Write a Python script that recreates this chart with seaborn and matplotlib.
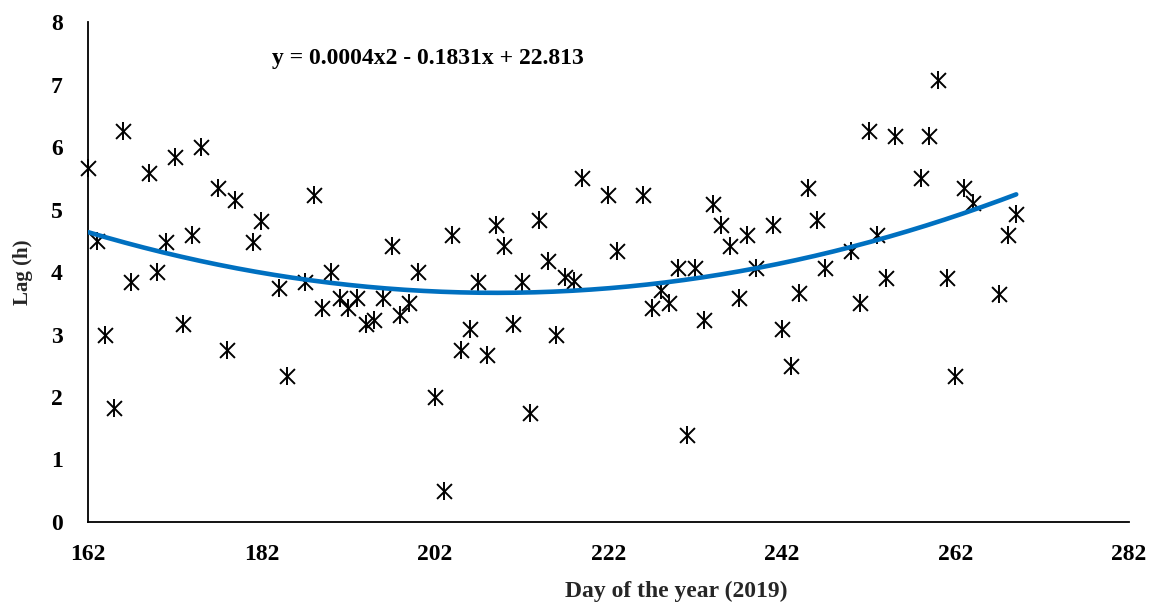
import numpy as np
import pandas as pd
import matplotlib
matplotlib.use("Agg")
import matplotlib.pyplot as plt
import seaborn as sns

# Daily lag observations
days = [162, 163, 164, 165, 166, 167, 169, 170, 171, 172, 173, 174, 175, 177,
        178, 179, 181, 182, 184, 185, 187, 188, 189, 190, 191, 192, 193, 194,
        195, 196, 197, 198, 199, 200, 202, 203, 204, 205, 206, 207, 208, 209,
        210, 211, 212, 213, 214, 215, 216, 217, 218, 219, 222, 223, 226, 227,
        228, 229, 230, 231, 232, 233, 234, 235, 236, 237, 238, 239, 241, 242,
        243, 244, 245, 246, 247, 250, 251, 252, 253, 254, 255, 258, 259, 260,
        261, 262, 263, 264, 267, 268, 269]
lags = [5.66, 4.49, 3.00, 1.82, 6.25, 3.84, 5.58, 4.00, 4.48, 5.84, 3.17, 4.59,
        6.00, 5.34, 2.75, 5.16, 4.48, 4.82, 3.74, 2.34, 3.84, 5.24, 3.42, 4.00,
        3.58, 3.42, 3.58, 3.17, 3.24, 3.59, 4.41, 3.32, 3.51, 4.00, 2.00, 0.50,
        4.59, 2.75, 3.09, 3.84, 2.67, 4.75, 4.41, 3.17, 3.84, 1.74, 4.83, 4.18,
        3.00, 3.92, 3.85, 5.50, 5.24, 4.34, 5.24, 3.42, 3.72, 3.50, 4.07, 1.39,
        4.07, 3.24, 5.09, 4.75, 4.41, 3.58, 4.59, 4.07, 4.75, 3.09, 2.49, 3.66,
        5.35, 4.83, 4.07, 4.33, 3.50, 6.25, 4.60, 3.91, 6.18, 5.50, 6.18, 7.08,
        3.91, 2.33, 5.35, 5.10, 3.65, 4.59, 4.93]

x_ticks = [162, 182, 202, 222, 242, 262, 282]
y_ticks = [0, 1, 2, 3, 4, 5, 6, 7, 8]
equation = "y = 0.0004x2 - 0.1831x + 22.813"

df = pd.DataFrame({"day": days, "lag": lags})

# Second-order polynomial trend over the observed range
coef = np.polyfit(df["day"], df["lag"], 2)
trend_x = np.linspace(min(days), max(days), 300)
trend = pd.DataFrame({"day": trend_x, "lag": np.polyval(coef, trend_x)})

sns.set_style("white")
plt.rcParams["font.family"] = ["Liberation Serif", "DejaVu Serif"]
plt.rcParams["font.weight"] = "bold"

fig, ax = plt.subplots(figsize=(11.62, 6.05), dpi=100)
fig.subplots_adjust(left=0.0757, right=0.9716, top=0.9636, bottom=0.1372)

# Asterisk markers: an "x" overlaid with a vertical bar
sns.scatterplot(data=df, x="day", y="lag", marker="x", s=115, color="black",
                linewidth=1.4, ax=ax, zorder=3, legend=False, clip_on=False)
sns.scatterplot(data=df, x="day", y="lag", marker="|", s=160, color="black",
                linewidth=1.4, ax=ax, zorder=3, legend=False, clip_on=False)

sns.lineplot(data=trend, x="day", y="lag", color="#0070C0", linewidth=3.3,
             ax=ax, zorder=4)

ax.set_xlim(162, 282)
ax.set_ylim(0, 8)
ax.set_xticks(x_ticks)
ax.set_yticks(y_ticks)
ax.tick_params(axis="both", direction="out", length=7, width=1.2,
               labelsize=17, color="black", labelcolor="black")
ax.tick_params(axis="x", pad=9)
ax.tick_params(axis="y", pad=11)
for lbl in ax.get_xticklabels() + ax.get_yticklabels():
    lbl.set_fontweight("bold")

for side in ["top", "right"]:
    ax.spines[side].set_visible(False)
for side in ["left", "bottom"]:
    ax.spines[side].set_color("black")
    ax.spines[side].set_linewidth(1.3)

ax.set_xlabel("Day of the year (2019)", fontsize=17, fontweight="bold")
ax.xaxis.set_label_coords(0.565, -0.118)
ax.set_ylabel("Lag (h)", fontsize=15, fontweight="bold")
ax.yaxis.set_label_coords(-0.053, 0.5)

ax.text(0.177, 0.927, equation, transform=ax.transAxes, fontsize=17,
        fontweight="bold", ha="left", va="center", color="black")

fig.savefig("out.png", dpi=100)
